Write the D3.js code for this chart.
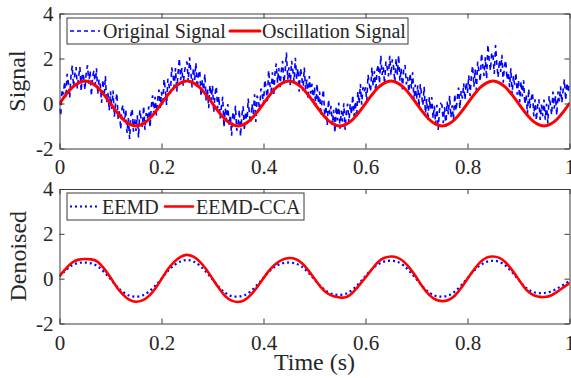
<!DOCTYPE html>
<html>
<head>
<meta charset="utf-8">
<script src="https://cdn.jsdelivr.net/npm/d3@7"></script>
<style>
html,body{margin:0;padding:0;background:#fff;}
svg{display:block;}
svg text{font-family:"Liberation Serif","Times New Roman",Times,serif !important;}
</style>
</head>
<body>
<svg id="chart" width="571" height="378"></svg>
<script>
// ---------------- DATA ----------------
const xTicks = [0, 0.2, 0.4, 0.6, 0.8, 1];
const xTickLabels = ["0", "0.2", "0.4", "0.6", "0.8", "1"];
const yTicks = [-2, 0, 2, 4];
const yTickLabels = ["-2", "0", "2", "4"];

// Original (noisy) signal, sampled every 0.0025 s from 0 to 1 s
const originalSignal = [
 -0.23,-0.55,0.63,0.40,0.98,0.25,1.32,0.89,0.26,1.22,1.68,0.73,1.28,1.62,0.66,1.19,1.62,0.54,1.36,1.17,
 0.61,1.41,1.70,0.88,1.46,0.33,1.20,1.46,0.82,1.57,0.42,1.06,0.80,0.03,1.06,0.29,1.22,0.04,0.47,-0.31,
 0.54,-0.24,0.58,-0.59,0.03,0.46,-0.71,-0.28,-1.15,-0.21,-0.07,-0.82,-0.27,-1.31,-0.65,-1.58,-0.51,-0.23,-1.25,-0.66,
 -1.22,-0.52,-1.51,-0.29,-0.67,-1.04,-0.11,-1.17,-0.43,-0.68,-0.13,-1.07,-0.11,0.36,-0.47,0.30,-0.53,0.15,0.62,-0.20,
 0.52,-0.10,1.08,0.65,-0.07,1.10,0.77,0.44,1.61,1.27,0.73,1.58,0.53,1.37,2.01,1.04,1.57,0.79,1.41,1.72,
 1.86,0.96,2.05,1.43,0.71,1.58,1.05,1.81,0.67,1.32,1.47,0.31,1.05,0.58,1.31,0.14,0.67,-0.21,0.82,0.14,
 0.79,-0.39,0.43,0.76,-0.22,0.31,-0.66,-0.13,0.30,-1.06,-0.22,-0.77,-0.02,-0.96,-0.50,-1.43,-0.36,-0.78,-0.10,-1.21,
 -0.97,-0.27,-1.46,-0.54,-0.12,-1.19,-0.36,-0.92,0.22,-0.53,-0.88,-0.02,-0.46,0.41,-0.82,0.35,0.12,-0.30,0.67,0.45,
 -0.03,1.05,0.73,0.10,1.48,0.85,0.52,1.39,0.36,1.32,1.78,0.93,1.58,0.72,1.46,1.89,0.92,1.44,2.26,1.07,
 1.61,0.81,1.90,1.48,0.96,2.03,1.10,1.56,0.52,1.57,1.22,0.56,1.60,0.63,1.06,0.19,1.22,0.44,0.87,0.09,
 0.74,-0.14,0.88,0.01,0.53,-0.54,0.19,0.62,-0.55,-0.11,-0.97,0.18,-0.47,-0.11,-0.95,-0.28,-1.31,-0.13,-0.75,0.04,
 -1.12,-0.32,-0.81,0.01,-1.17,-0.34,-0.01,-0.87,-0.03,-0.48,0.37,-0.57,0.09,-0.64,0.53,0.00,0.87,-0.05,0.72,0.50,
 0.72,0.10,1.28,0.85,0.53,1.60,0.77,1.44,0.51,1.47,1.73,0.88,2.13,1.27,1.61,0.84,1.87,1.59,1.21,2.12,
 1.26,1.96,1.65,0.93,2.01,1.28,2.15,1.01,1.57,0.62,1.57,1.71,0.85,1.18,0.51,1.34,0.67,1.39,0.12,0.84,
 0.19,0.81,-0.17,0.86,0.38,-0.09,0.74,-0.43,0.20,-0.76,0.28,-0.27,0.28,-0.66,-0.10,-0.93,-0.06,-1.18,-0.30,-0.01,
 -0.07,-0.87,-0.16,-1.04,0.08,-0.49,0.34,-0.62,-0.08,-0.73,0.42,-0.32,0.24,0.71,-0.22,0.55,0.22,0.90,0.17,0.95,
 0.47,1.25,0.33,1.20,1.68,0.75,1.52,0.59,1.86,1.42,0.98,2.23,1.68,1.22,2.06,1.09,2.62,1.94,1.46,2.27,
 2.11,1.31,2.60,1.78,1.16,1.93,1.40,2.16,0.92,1.67,1.92,1.06,1.40,0.73,1.56,0.39,1.22,0.84,1.37,0.39,
 1.04,0.06,0.98,0.31,1.03,-0.04,0.39,-0.48,0.65,-0.21,0.23,0.48,-0.57,0.19,-0.75,-0.08,0.19,-0.73,-0.05,-0.56,
 0.18,-0.72,-0.01,-0.89,0.33,-0.04,-0.51,0.53,-0.23,0.32,-0.53,0.53,0.09,0.76,0.03,0.60,1.07,0.15,0.92,0.50,
 0.90
];

// Oscillation signal, sampled every 0.0125 s
const oscillationSignal = [
 0,0.38,0.71,0.92,1,0.92,0.71,0.38,0,-0.38,-0.71,-0.92,-1,-0.92,-0.71,-0.38,
 0,0.38,0.71,0.92,1,0.92,0.71,0.38,0,-0.38,-0.71,-0.92,-1,-0.92,-0.71,-0.38,
 0,0.38,0.71,0.92,1,0.92,0.71,0.38,0,-0.38,-0.71,-0.92,-1,-0.92,-0.71,-0.38,
 0,0.38,0.71,0.92,1,0.92,0.71,0.38,0,-0.38,-0.71,-0.92,-1,-0.92,-0.71,-0.38,
 0,0.38,0.71,0.92,1,0.92,0.71,0.38,0,-0.38,-0.71,-0.92,-1,-0.92,-0.71,-0.38,
 0
];

// EEMD denoised, sampled every 0.0125 s
const eemdSignal = [
 0.10,0.38,0.60,0.70,0.72,0.68,0.55,0.30,-0.02,-0.35,-0.60,-0.76,-0.80,-0.75,-0.58,-0.32,
 0.00,0.34,0.60,0.77,0.83,0.77,0.58,0.30,-0.03,-0.37,-0.63,-0.78,-0.80,-0.74,-0.56,-0.28,
 0.04,0.35,0.57,0.69,0.72,0.68,0.54,0.28,-0.04,-0.35,-0.58,-0.70,-0.72,-0.66,-0.48,-0.20,
 0.12,0.42,0.64,0.77,0.80,0.75,0.58,0.30,-0.03,-0.36,-0.62,-0.77,-0.80,-0.75,-0.58,-0.30,
 0.02,0.35,0.60,0.75,0.80,0.75,0.57,0.28,-0.05,-0.36,-0.56,-0.64,-0.64,-0.58,-0.45,-0.28,
 -0.10
];

// EEMD-CCA denoised, sampled every 0.0125 s
const eemdCcaSignal = [
 0.12,0.45,0.72,0.85,0.88,0.86,0.75,0.45,0.05,-0.38,-0.72,-0.95,-1.03,-0.97,-0.78,-0.45,
 -0.02,0.42,0.75,0.97,1.06,0.98,0.76,0.42,0.00,-0.42,-0.78,-0.98,-1.04,-0.96,-0.72,-0.38,
 0.02,0.40,0.68,0.85,0.92,0.88,0.70,0.38,0.00,-0.38,-0.65,-0.78,-0.84,-0.82,-0.62,-0.30,
 0.05,0.42,0.75,0.93,0.99,0.94,0.76,0.45,0.05,-0.38,-0.72,-0.93,-1.00,-0.95,-0.76,-0.42,
 0.00,0.40,0.74,0.94,0.99,0.93,0.72,0.38,-0.02,-0.42,-0.68,-0.80,-0.82,-0.76,-0.60,-0.40,
 -0.20
];

const tMax = 1;
// ---------------- CHART ----------------
const svg = d3.select("#chart");
const FONT = "Liberation Serif";
const TXT = "#262626";
const AX = "#3a3a3a";

const x = d3.scaleLinear().domain([0, 1]).range([59.5, 569.5]);

function timeOf(arr) {
  const n = arr.length - 1;
  return arr.map((v, i) => ({ t: tMax * i / n, v }));
}

function drawPanel(cfg) {
  const y = d3.scaleLinear().domain([-2, 4]).range([cfg.bottom, cfg.top]);
  const g = svg.append("g");
  const clipId = "clip" + cfg.id;
  svg.append("clipPath").attr("id", clipId).append("rect")
    .attr("x", x.range()[0]).attr("y", cfg.top)
    .attr("width", x.range()[1] - x.range()[0]).attr("height", cfg.bottom - cfg.top);

  const plot = g.append("g").attr("clip-path", `url(#${clipId})`);
  cfg.series.forEach(s => {
    const line = d3.line().x(d => x(d.t)).y(d => y(d.v)).curve(s.curve || d3.curveLinear);
    plot.append("path").datum(timeOf(s.data))
      .attr("d", line).attr("fill", "none")
      .attr("stroke", s.color).attr("stroke-width", s.width)
      .attr("stroke-dasharray", s.dash || null)
      .attr("stroke-linecap", s.cap || "butt")
      .attr("stroke-linejoin", s.join || "round");
  });

  const styleAxis = sel => {
    sel.attr("font-family", FONT).attr("font-size", 21);
    sel.selectAll("path.domain").attr("stroke", AX).attr("stroke-width", 1);
    sel.selectAll(".tick line").attr("stroke", AX).attr("stroke-width", 1);
    sel.selectAll("text").attr("fill", TXT);
  };
  const xb = d3.axisBottom(x).tickValues(xTicks).tickFormat((d, i) => xTickLabels[i])
    .tickSizeInner(-5).tickSizeOuter(0).tickPadding(cfg.xPad);
  g.append("g").attr("transform", `translate(0,${cfg.bottom})`).call(xb).call(styleAxis);
  const xt = d3.axisTop(x).tickValues(xTicks).tickFormat("").tickSizeInner(-5).tickSizeOuter(0);
  g.append("g").attr("transform", `translate(0,${cfg.top})`).call(xt).call(styleAxis);
  const yl = d3.axisLeft(y).tickValues(yTicks).tickFormat((d, i) => yTickLabels[i])
    .tickSizeInner(-5).tickSizeOuter(0).tickPadding(6);
  g.append("g").attr("transform", `translate(${x.range()[0]},0)`).call(yl).call(styleAxis);
  const yr = d3.axisRight(y).tickValues(yTicks).tickFormat("").tickSizeInner(-5).tickSizeOuter(0);
  g.append("g").attr("transform", `translate(${x.range()[1]},0)`).call(yr).call(styleAxis);

  g.append("text")
    .attr("transform", `translate(${cfg.ylabelX},${(cfg.top + cfg.bottom) / 2}) rotate(-90)`)
    .attr("text-anchor", "middle")
    .attr("fill", TXT).attr("font-family", FONT).attr("font-size", 24)
    .text(cfg.ylabel);

  const L = cfg.legend;
  const lg = g.append("g");
  lg.append("rect").attr("x", L.x).attr("y", L.y).attr("width", L.w).attr("height", L.h)
    .attr("fill", "#fff").attr("stroke", AX).attr("stroke-width", 1);
  L.items.forEach(it => {
    const s = cfg.series[it.series];
    const cy = L.y + L.h / 2;
    lg.append("line").attr("x1", it.x1).attr("x2", it.x2).attr("y1", cy).attr("y2", cy)
      .attr("stroke", s.color).attr("stroke-width", s.legendWidth || s.width)
      .attr("stroke-dasharray", s.legendDash || s.dash || null).attr("stroke-linecap", s.cap || "butt");
    lg.append("text").attr("x", it.tx).attr("y", cy + 7)
      .attr("fill", TXT).attr("font-family", FONT).attr("font-size", 20)
      .text(it.label);
  });
}

drawPanel({
  id: "top", top: 13.5, bottom: 148.5, xPad: 11, ylabel: "Signal", ylabelX: 25,
  series: [
    { data: originalSignal, color: "#0000ff", width: 1.6, dash: "5,4", join: "miter", legendDash: "4,3" },
    { data: oscillationSignal, color: "#ff0000", width: 3, curve: d3.curveNatural, cap: "round" }
  ],
  legend: { x: 67, y: 18, w: 341, h: 26, items: [
    { series: 0, x1: 70, x2: 100, tx: 103, label: "Original Signal" },
    { series: 1, x1: 230, x2: 260, tx: 262, label: "Oscillation Signal" }
  ]}
});

drawPanel({
  id: "bot", top: 189, bottom: 323.5, xPad: 12, ylabel: "Denoised", ylabelX: 26,
  series: [
    { data: eemdSignal, color: "#0000ff", width: 2.2, dash: "2,3", curve: d3.curveNatural },
    { data: eemdCcaSignal, color: "#ff0000", width: 2.6, curve: d3.curveNatural, cap: "round" }
  ],
  legend: { x: 67, y: 193, w: 237, h: 27, items: [
    { series: 0, x1: 70, x2: 100, tx: 102, label: "EEMD" },
    { series: 1, x1: 165, x2: 193, tx: 196, label: "EEMD-CCA" }
  ]}
});

svg.append("text").attr("x", (x.range()[0] + x.range()[1]) / 2).attr("y", 370)
  .attr("text-anchor", "middle").attr("fill", TXT)
  .attr("font-family", FONT).attr("font-size", 24).text("Time (s)");
</script>
</body>
</html>
